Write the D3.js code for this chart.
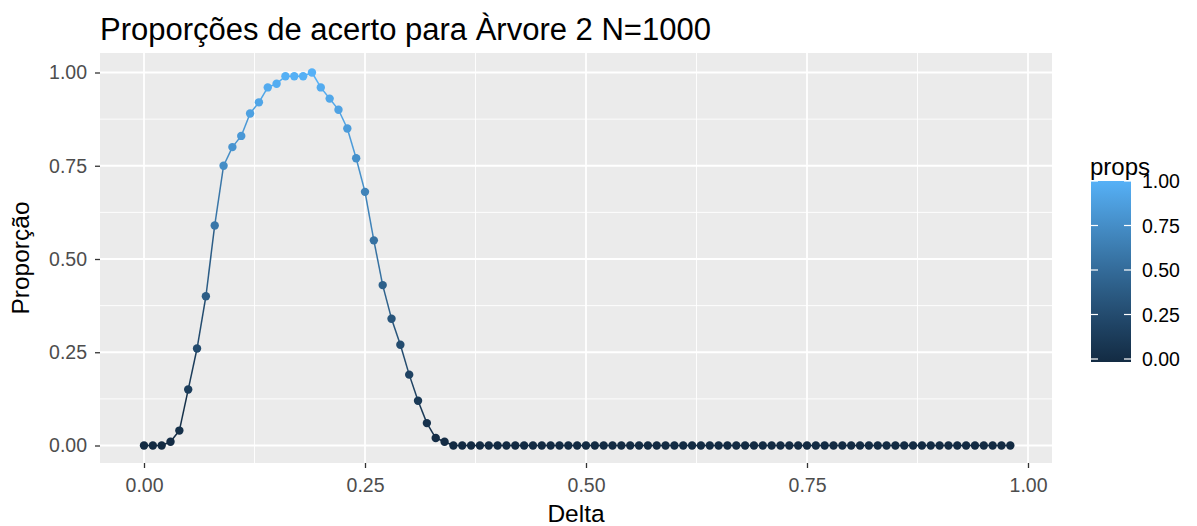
<!DOCTYPE html>
<html><head><meta charset="utf-8">
<script src="https://cdn.jsdelivr.net/npm/d3@7"></script>
<style>body{margin:0;background:#fff}svg{display:block;font-family:"Liberation Sans",Arial,sans-serif}</style>
</head><body>
<svg id="c" width="1197" height="526"></svg>
<script>
const delta = [0.00,0.01,0.02,0.03,0.04,0.05,0.06,0.07,0.08,0.09,0.10,0.11,0.12,0.13,0.14,0.15,0.16,0.17,0.18,0.19,
0.20,0.21,0.22,0.23,0.24,0.25,0.26,0.27,0.28,0.29,0.30,0.31,0.32,0.33,0.34,0.35,0.36,0.37,0.38,0.39,
0.40,0.41,0.42,0.43,0.44,0.45,0.46,0.47,0.48,0.49,0.50,0.51,0.52,0.53,0.54,0.55,0.56,0.57,0.58,0.59,
0.60,0.61,0.62,0.63,0.64,0.65,0.66,0.67,0.68,0.69,0.70,0.71,0.72,0.73,0.74,0.75,0.76,0.77,0.78,0.79,
0.80,0.81,0.82,0.83,0.84,0.85,0.86,0.87,0.88,0.89,0.90,0.91,0.92,0.93,0.94,0.95,0.96,0.97,0.98];
const props = [0,0,0,0.01,0.04,0.15,0.26,0.40,0.59,0.75,0.80,0.83,0.89,0.92,0.96,0.97,0.99,0.99,0.99,1.00,
0.96,0.93,0.90,0.85,0.77,0.68,0.55,0.43,0.34,0.27,0.19,0.12,0.06,0.02,0.01,0,0,0,0,0,
0,0,0,0,0,0,0,0,0,0,0,0,0,0,0,0,0,0,0,0,
0,0,0,0,0,0,0,0,0,0,0,0,0,0,0,0,0,0,0,0,
0,0,0,0,0,0,0,0,0,0,0,0,0,0,0,0,0,0,0];
const xTicks = [0, 0.25, 0.5, 0.75, 1.0];
const yTicks = [0, 0.25, 0.5, 0.75, 1.0];
const legendTicks = [0, 0.25, 0.5, 0.75, 1.0];
const title = "Proporções de acerto para Àrvore 2 N=1000";

const svg = d3.select("#c");
const P = {l:100, r:1052, t:53, b:463};
const x = d3.scaleLinear().domain([0,1]).range([144,1028]);
const y = d3.scaleLinear().domain([0,1]).range([445.5,72.5]);
const col = d3.scaleLinear().domain([0,1]).range(["#132B43","#56B1F7"]).interpolate(d3.interpolateLab);
const fmt = d3.format(".2f");
const tickFont = "19.5px";

// panel
svg.append("rect").attr("x",P.l).attr("y",P.t).attr("width",P.r-P.l).attr("height",P.b-P.t).attr("fill","#EBEBEB");
const minorX = [0.125,0.375,0.625,0.875], minorY=[0.125,0.375,0.625,0.875];
minorX.forEach(v=>svg.append("line").attr("x1",x(v)).attr("x2",x(v)).attr("y1",P.t).attr("y2",P.b).attr("stroke","#fff").attr("stroke-width",0.9));
minorY.forEach(v=>svg.append("line").attr("y1",y(v)).attr("y2",y(v)).attr("x1",P.l).attr("x2",P.r).attr("stroke","#fff").attr("stroke-width",0.9));
xTicks.forEach(v=>svg.append("line").attr("x1",x(v)).attr("x2",x(v)).attr("y1",P.t).attr("y2",P.b).attr("stroke","#fff").attr("stroke-width",1.8));
yTicks.forEach(v=>svg.append("line").attr("y1",y(v)).attr("y2",y(v)).attr("x1",P.l).attr("x2",P.r).attr("stroke","#fff").attr("stroke-width",1.8));

// axes
const xa = svg.append("g").attr("transform",`translate(0,${P.b})`)
  .call(d3.axisBottom(x).tickValues(xTicks).tickFormat(fmt).tickSize(5).tickPadding(10));
const ya = svg.append("g").attr("transform",`translate(${P.l},0)`)
  .call(d3.axisLeft(y).tickValues(yTicks).tickFormat(fmt).tickSize(5).tickPadding(8));
[xa,ya].forEach(g=>{
  g.select(".domain").remove();
  g.selectAll(".tick line").attr("stroke","#333").attr("stroke-width",1.3);
  g.selectAll(".tick text").attr("fill","#4D4D4D").style("font-size",tickFont).style("font-family","'Liberation Sans',Arial,sans-serif");
});

// line segments coloured by first point
const pts = delta.map((d,i)=>({d, p:props[i]}));
const seg = svg.append("g");
for(let i=0;i<pts.length-1;i++){
  seg.append("line").attr("x1",x(pts[i].d)).attr("y1",y(pts[i].p)).attr("x2",x(pts[i+1].d)).attr("y2",y(pts[i+1].p))
    .attr("stroke",col(pts[i].p)).attr("stroke-width",1.5);
}
svg.append("g").selectAll("circle").data(pts).join("circle")
  .attr("cx",d=>x(d.d)).attr("cy",d=>y(d.p)).attr("r",4.2).attr("fill",d=>col(d.p));

// titles
svg.append("text").attr("x",P.l).attr("y",40).text(title).attr("fill","#000").style("font-size","31px");
svg.append("text").attr("x",(P.l+P.r)/2).attr("y",522).attr("text-anchor","middle").text("Delta").style("font-size","24.5px");
svg.append("text").attr("transform",`translate(29,${(P.t+P.b)/2}) rotate(-90)`).attr("text-anchor","middle").text("Proporção").style("font-size","24.5px");

// legend
const defs = svg.append("defs");
const gr = defs.append("linearGradient").attr("id","lg").attr("x1",0).attr("x2",0).attr("y1",1).attr("y2",0);
d3.range(0,1.0001,0.1).forEach(t=>gr.append("stop").attr("offset",t).attr("stop-color",col(t)));
const ly = d3.scaleLinear().domain([0,1]).range([359,181]);
const lb = {x:1091, w:40};
svg.append("rect").attr("x",lb.x).attr("y",ly(1)).attr("width",lb.w).attr("height",ly(0)-ly(1)+3).attr("fill","url(#lg)");
legendTicks.forEach(v=>{
  svg.append("line").attr("x1",lb.x).attr("x2",lb.x+7).attr("y1",ly(v)).attr("y2",ly(v)).attr("stroke","#fff").attr("stroke-width",1.2);
  svg.append("line").attr("x1",lb.x+lb.w-7).attr("x2",lb.x+lb.w).attr("y1",ly(v)).attr("y2",ly(v)).attr("stroke","#fff").attr("stroke-width",1.2);
  svg.append("text").attr("x",lb.x+lb.w+11).attr("y",ly(v)).attr("dy","0.36em").text(fmt(v)).attr("fill","#000").style("font-size",tickFont);
});
svg.append("text").attr("x",1090).attr("y",175).text("props").style("font-size","24px");
</script>
</body></html>
